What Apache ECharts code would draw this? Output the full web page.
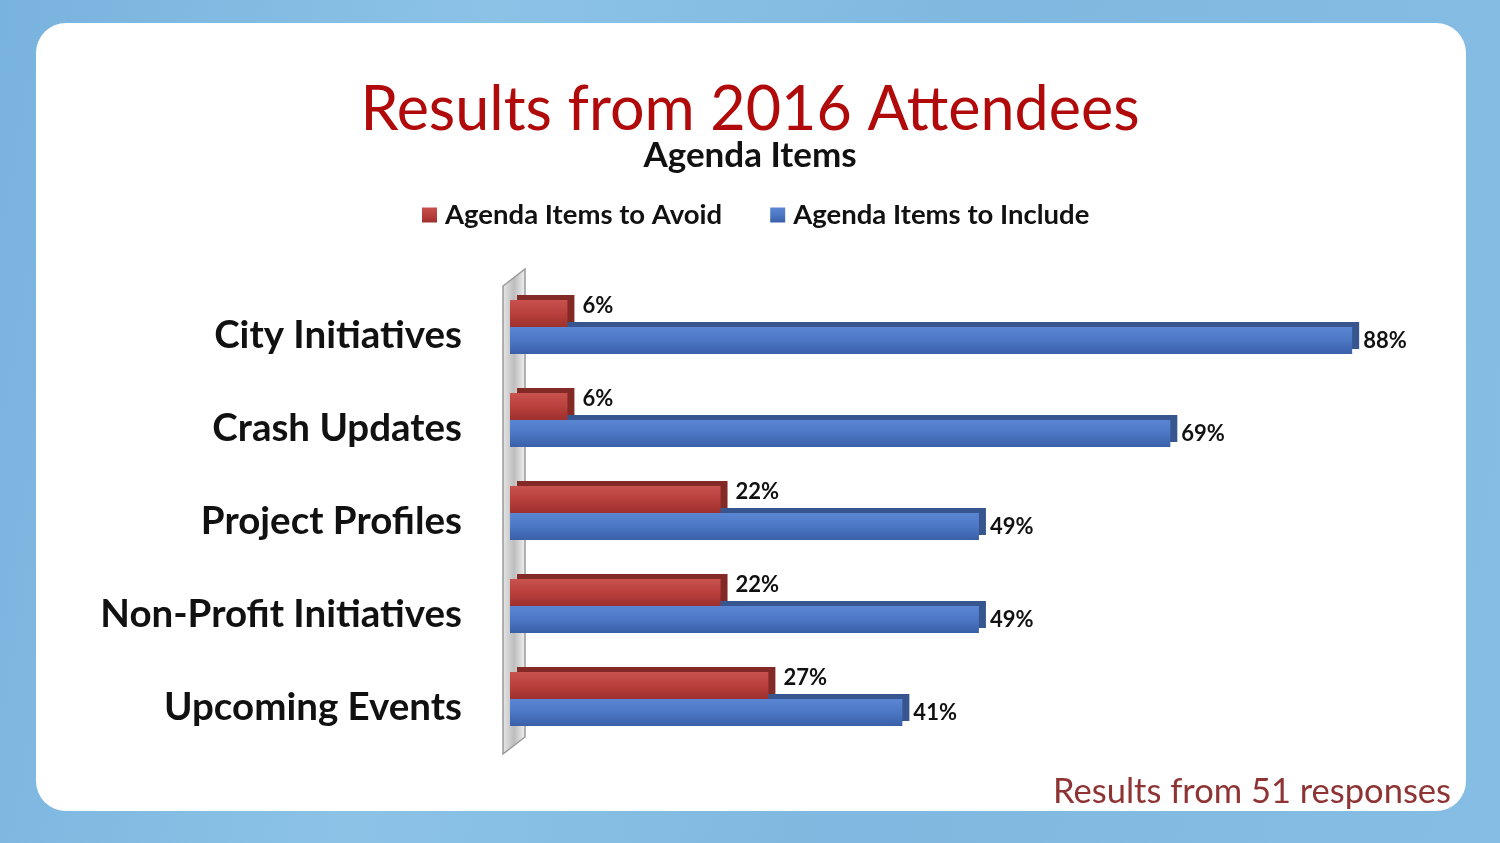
<!DOCTYPE html>
<html>
<head>
<meta charset="utf-8">
<script src="https://cdn.jsdelivr.net/npm/echarts@6/dist/echarts.min.js"></script>
<style>
html,body{margin:0;padding:0;width:1500px;height:843px;overflow:hidden;
background:linear-gradient(100deg,#78b3de 0%,#8cc2e6 30%,#7fb8e0 60%,#86bde4 100%);}
#panel{position:absolute;left:36px;top:23px;width:1430px;height:788px;background:#fff;border-radius:30px;}
#chart{position:absolute;left:0;top:0;width:1500px;height:843px;}
</style>
</head>
<body>
<div id="panel"></div>
<div id="chart"></div>
<script>
const categories = ["City Initiatives","Crash Updates","Project Profiles","Non-Profit Initiatives","Upcoming Events"];
const avoidValues = [6, 6, 22, 22, 27];
const includeValues = [88, 69, 49, 49, 41];
const seriesNames = ["Agenda Items to Avoid","Agenda Items to Include"];

const FONT = 'Lato';
const chart = echarts.init(document.getElementById('chart'), null, {renderer:'canvas'});
chart.setOption({
  backgroundColor: 'transparent',
  animation: false,
  textStyle: {fontFamily: FONT},
  title: [
    {text: 'Results from 2016 Attendees', left: 'center', top: 75,
     textStyle: {fontFamily: FONT, fontSize: 61, fontWeight: 'normal', color: '#b00a0a'}},
    {text: 'Agenda Items', left: 'center', top: 133,
     textStyle: {fontFamily: FONT, fontSize: 35, fontWeight: 'bold', color: '#111'}},
    {text: 'Results from 51 responses', right: 44, top: 769,
     textStyle: {fontFamily: FONT, fontSize: 34.5, fontWeight: 'normal', color: '#8e3434'}}
  ],
  legend: {
    data: seriesNames, top: 196, left: 417, icon: 'rect',
    itemWidth: 15, itemHeight: 15, itemGap: 48,
    textStyle: {fontFamily: FONT, fontSize: 27.5, fontWeight: 'bold', color: '#111', padding: [0,0,0,3]}
  },
  graphic: [
    {type: 'polygon', silent: true, z: 0,
     shape: {points: [[503,286],[525,269],[525,737],[503,754]]},
     style: {fill: new echarts.graphic.LinearGradient(0,0,1,0,[
       {offset:0,color:'#e8e8e8'},{offset:0.5,color:'#bdbdbd'},{offset:1,color:'#f2f2f2'}]),
       stroke: '#999', lineWidth: 1.5}}
  ],
  grid: {left: 510, top: 280.5, width: 957, height: 465, containLabel: false},
  xAxis: {type: 'value', min: 0, max: 100, show: false, splitLine: {show: false}},
  yAxis: {
    type: 'category', data: categories, inverse: true,
    axisLine: {show: false}, axisTick: {show: false},
    axisLabel: {margin: 48, color: '#111',
      formatter: v => '{a|' + v + '}',
      rich: {a: {fontFamily: FONT, fontSize: 38.5, fontWeight: 'bold', color: '#111', padding: [18,0,0,0]}}}
  },
  series: [
    {name: seriesNames[0], type: 'bar', data: avoidValues, barWidth: 27, barGap: '0%', z: 3,
     itemStyle: {color: new echarts.graphic.LinearGradient(0,0,0,1,[
       {offset:0,color:'#c8524e'},{offset:0.5,color:'#b9403c'},{offset:1,color:'#9d302d'}]),
       shadowColor: '#832a27', shadowBlur: 0, shadowOffsetX: 7, shadowOffsetY: -5},
     label: {show: true, position: 'right', distance: 15, offset: [0,-8], formatter: '{c}%',
       fontFamily: FONT, fontSize: 22, fontWeight: 'bold', color: '#111'}},
    {name: seriesNames[1], type: 'bar', data: includeValues, barWidth: 27, z: 2,
     itemStyle: {color: new echarts.graphic.LinearGradient(0,0,0,1,[
       {offset:0,color:'#5a86d3'},{offset:0.5,color:'#4c77c4'},{offset:1,color:'#3a5fa8'}]),
       shadowColor: '#37558f', shadowBlur: 0, shadowOffsetX: 7, shadowOffsetY: -5},
     label: {show: true, position: 'right', distance: 11, formatter: '{c}%',
       fontFamily: FONT, fontSize: 22, fontWeight: 'bold', color: '#111'}}
  ]
});
</script>
</body>
</html>
